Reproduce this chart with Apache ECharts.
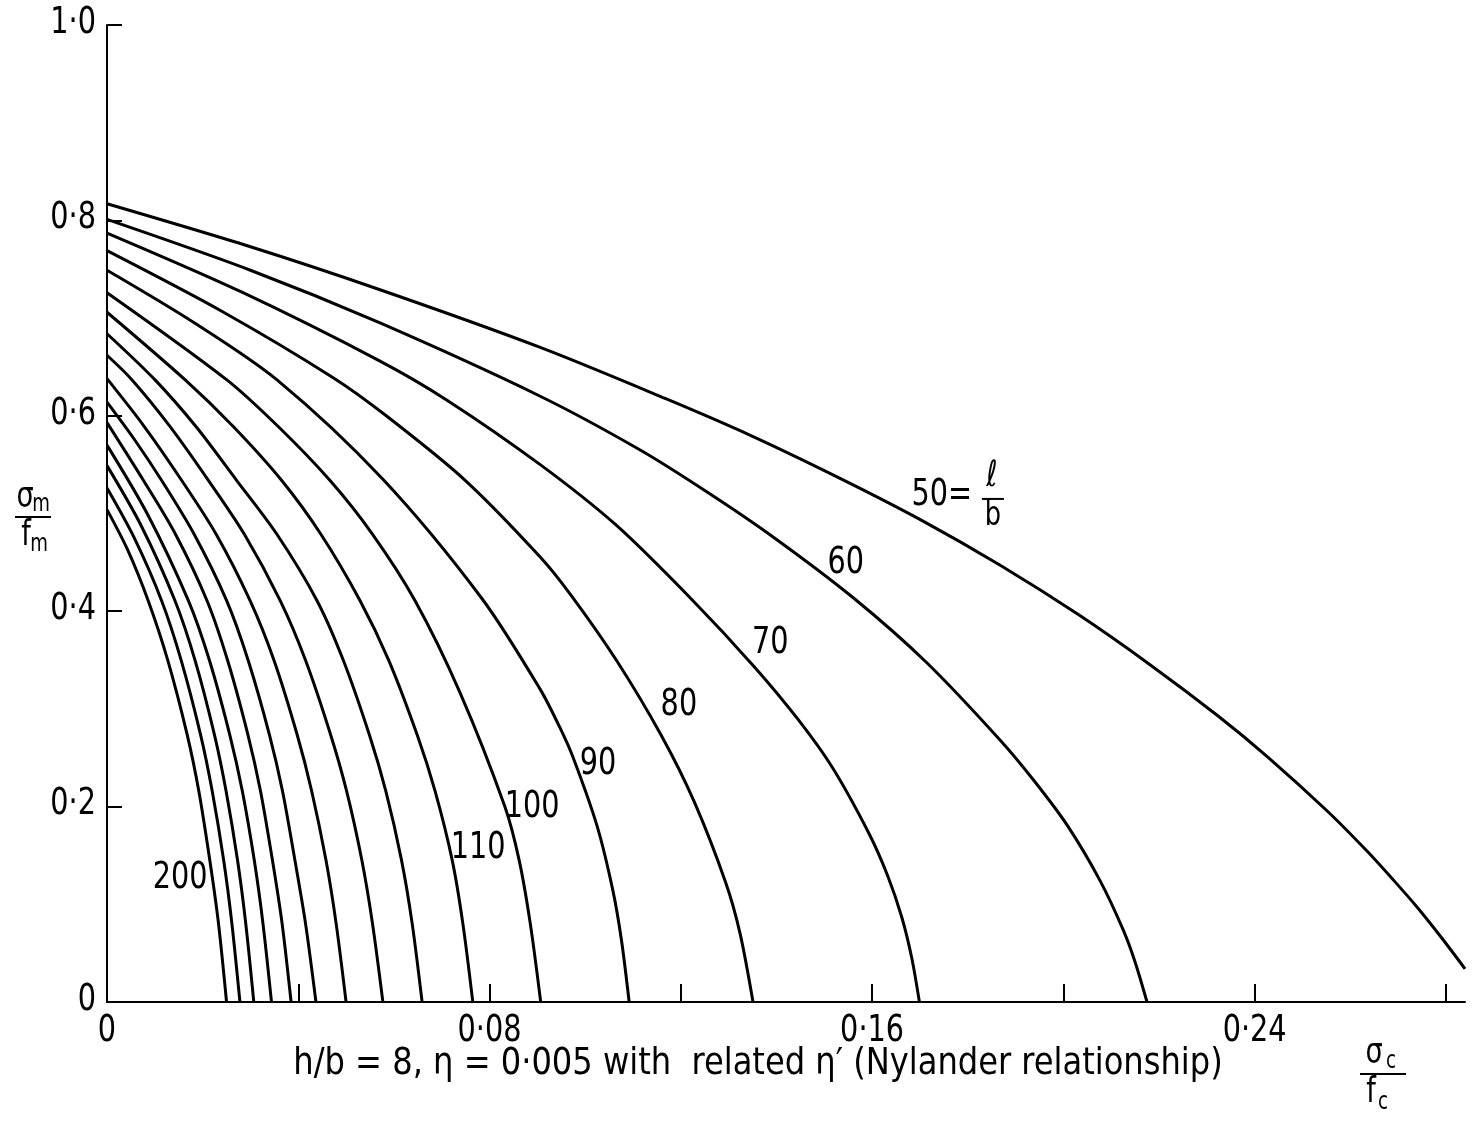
<!DOCTYPE html>
<html><head><meta charset="utf-8">
<script src="https://cdn.jsdelivr.net/npm/echarts@6/dist/echarts.min.js"></script>
<style>html,body{margin:0;padding:0;background:#fff}#c{width:1482px;height:1125px}</style>
</head><body><div id="c"></div>
<script>
const FONT = '"DejaVu Sans Condensed","Liberation Sans Narrow","DejaVu Sans",sans-serif';

// slenderness ratio l/b of each curve
const slenderness = [50, 60, 70, 80, 90, 100, 110, 120, 130, 140, 150, 160, 170, 180, 190, 200];

// [sigma_c/f_c, sigma_m/f_m]
const curve50 = [[0,0.817],[0.030,0.773],[0.0571,0.729],[0.0906,0.670],[0.1171,0.617],[0.135,0.579],[0.1533,0.536],[0.1700,0.494],[0.1868,0.447],[0.2033,0.396],[0.2182,0.345],[0.2323,0.293],[0.2427,0.251],[0.2553,0.195],[0.2636,0.154],[0.2690,0.125],[0.2740,0.097],[0.2789,0.067],[0.2840,0.034]];
const curve60 = [[0,0.801],[0.030,0.749],[0.0571,0.695],[0.0906,0.620],[0.1115,0.565],[0.1255,0.522],[0.1393,0.476],[0.1560,0.414],[0.1715,0.347],[0.1868,0.268],[0.1938,0.227],[0.2008,0.181],[0.2077,0.124],[0.2125,0.074],[0.2150,0.041],[0.2175,0]];
const curve70 = [[0,0.787],[0.028,0.727],[0.0571,0.656],[0.0711,0.616],[0.0906,0.550],[0.1065,0.488],[0.1225,0.411],[0.1354,0.343],[0.1444,0.290],[0.1517,0.240],[0.1593,0.173],[0.1632,0.130],[0.1662,0.087],[0.1683,0.045],[0.1699,0]];
const curve80 = [[0,0.769],[0.024,0.707],[0.0473,0.639],[0.0584,0.600],[0.0749,0.534],[0.0905,0.456],[0.0971,0.416],[0.1065,0.350],[0.1159,0.273],[0.1228,0.205],[0.1294,0.122],[0.1324,0.070],[0.1351,0]];
const curve90 = [[0,0.749],[0.018,0.696],[0.0355,0.637],[0.0577,0.535],[0.0784,0.413],[0.0906,0.320],[0.0947,0.281],[0.0975,0.250],[0.1025,0.180],[0.1058,0.114],[0.1076,0.063],[0.1092,0]];
const curve100 = [[0,0.726],[0.0250,0.637],[0.0358,0.589],[0.0466,0.534],[0.0555,0.479],[0.0644,0.411],[0.0738,0.317],[0.0832,0.200],[0.0862,0.145],[0.0885,0.081],[0.0907,0]];
const curve110 = [[0,0.706],[0.0163,0.637],[0.0264,0.589],[0.0365,0.534],[0.0447,0.479],[0.0529,0.411],[0.0589,0.350],[0.0649,0.273],[0.0686,0.216],[0.0722,0.145],[0.0744,0.081],[0.0765,0]];
const curve120 = [[0,0.684],[0.0100,0.637],[0.0186,0.589],[0.0271,0.534],[0.0355,0.479],[0.0439,0.411],[0.0494,0.350],[0.0549,0.273],[0.0583,0.216],[0.0616,0.145],[0.0638,0.081],[0.0659,0]];
const curve130 = [[0,0.662],[0.0052,0.637],[0.0132,0.589],[0.0212,0.534],[0.0287,0.479],[0.0362,0.411],[0.0415,0.350],[0.0468,0.273],[0.0501,0.216],[0.0533,0.145],[0.0555,0.081],[0.0577,0]];
const curve140 = [[0,0.638],[0.0078,0.589],[0.0156,0.534],[0.0228,0.479],[0.0299,0.411],[0.0349,0.350],[0.0398,0.273],[0.0428,0.216],[0.0458,0.145],[0.0479,0.081],[0.0500,0]];
const curve150 = [[0,0.614],[0.0057,0.576],[0.0114,0.534],[0.0182,0.479],[0.0250,0.411],[0.0295,0.350],[0.0340,0.273],[0.0367,0.216],[0.0393,0.145],[0.0415,0.081],[0.0437,0]];
const curve160 = [[0,0.593],[0.0076,0.534],[0.0143,0.479],[0.0209,0.411],[0.0252,0.350],[0.0295,0.273],[0.0321,0.216],[0.0346,0.145],[0.0366,0.081],[0.0385,0]];
const curve170 = [[0,0.570],[0.0085,0.499],[0.0170,0.411],[0.0214,0.350],[0.0257,0.273],[0.0283,0.216],[0.0308,0.145],[0.0326,0.081],[0.0344,0]];
const curve180 = [[0,0.549],[0.0071,0.488],[0.0142,0.411],[0.0184,0.350],[0.0225,0.273],[0.0249,0.216],[0.0273,0.145],[0.0290,0.081],[0.0307,0]];
const curve190 = [[0,0.526],[0.0057,0.475],[0.0114,0.411],[0.0155,0.350],[0.0196,0.273],[0.0220,0.216],[0.0244,0.145],[0.0261,0.081],[0.0278,0]];
const curve200 = [[0,0.504],[0.0043,0.463],[0.0086,0.411],[0.0127,0.350],[0.0168,0.273],[0.0192,0.216],[0.0215,0.145],[0.0233,0.081],[0.0250,0]];
const curves = [curve50, curve60, curve70, curve80, curve90, curve100, curve110, curve120,
                curve130, curve140, curve150, curve160, curve170, curve180, curve190, curve200];

// axis ticks and labels
const xTickValues = [0.04, 0.08, 0.12, 0.16, 0.20, 0.24, 0.28];
const xLabelValues = [0, 0.08, 0.16, 0.24];
const yTickValues = [0.2, 0.4, 0.6, 0.8, 1.0];
const yLabelValues = [0, 0.2, 0.4, 0.6, 0.8, 1.0];

// curve labels (text, and anchor in data units)
const curveLabelText = ['50=', '60', '70', '80', '90', '100', '110', '200'];
const curveLabelAnchor = [[0.1746,0.519],[0.1545,0.449],[0.1387,0.367],[0.1196,0.304],[0.1027,0.243],[0.0889,0.199],[0.0776,0.158],[0.0153,0.127]];

const caption = 'h/b = 8, η = 0·005 with  related η\u2032 (Nylander relationship)';

function fmt(v, d) {
  if (Math.abs(v) < 1e-9) return '0';
  return v.toFixed(d).replace('.', '\u00b7');
}

const lineSeries = curves.map((c, i) => ({
  type: 'line',
  name: 'l/b = ' + slenderness[i],
  data: c,
  showSymbol: false,
  smooth: 0.3,
  lineStyle: { color: '#000', width: 3 },
  silent: true,
  z: 3
}));

const option = {
  animation: false,
  backgroundColor: '#fff',
  grid: { left: 107, right: 17, top: 25, bottom: 123 },
  xAxis: {
    type: 'value', min: 0, max: 0.284,
    axisLine: { lineStyle: { color: '#000', width: 2 } },
    axisTick: { show: true, inside: true, length: 18, customValues: xTickValues, lineStyle: { color: '#000', width: 2 } },
    axisLabel: { show: false },
    splitLine: { show: false }
  },
  yAxis: {
    type: 'value', min: 0, max: 1,
    axisLine: { lineStyle: { color: '#000', width: 2 } },
    axisTick: { show: true, inside: true, length: 15, customValues: yTickValues, lineStyle: { color: '#000', width: 2 } },
    axisLabel: { show: false },
    splitLine: { show: false }
  },
  series: lineSeries
};

const chart = echarts.init(document.getElementById('c'));
chart.setOption(option);

const SX = 0.84;
const txt = (x, y, s, size, align, sx) => ({
  type: 'text', x: x, y: y, silent: true, scaleX: sx || SX,
  style: { text: s, fontFamily: FONT, fontSize: size, fill: '#000', align: align || 'center', verticalAlign: 'middle' }
});
const bar = (x1, x2, y) => ({
  type: 'line', silent: true,
  shape: { x1: x1, y1: y, x2: x2, y2: y },
  style: { stroke: '#000', lineWidth: 2 }
});

const g = [];
// axis tick labels placed through the axis scales
xLabelValues.forEach(v => {
  const p = chart.convertToPixel({ gridIndex: 0 }, [v, 0]);
  g.push(txt(p[0], p[1] + 29, fmt(v, 2), 38));
});
yLabelValues.forEach(v => {
  const p = chart.convertToPixel({ gridIndex: 0 }, [0, v]);
  g.push(txt(p[0] - 11, p[1] - 2, fmt(v, 1), 38, 'right'));
});
// curve labels
curveLabelAnchor.forEach((a, i) => {
  const p = chart.convertToPixel({ gridIndex: 0 }, a);
  g.push(txt(p[0], p[1], curveLabelText[i], 38));
});
const p50 = chart.convertToPixel({ gridIndex: 0 }, curveLabelAnchor[0]);
g.push(txt(p50[0] + 50, p50[1] - 18, '\u2113', 36));
g.push(bar(p50[0] + 40, p50[0] + 62, p50[1] + 4));
g.push(txt(p50[0] + 51, p50[1] + 21, 'b', 34));
// y-axis name sigma_m / f_m
g.push(txt(25, 498, '\u03c3', 36));
g.push(txt(41, 505, 'm', 24));
g.push(bar(15, 51, 517));
g.push(txt(26, 536, 'f', 36));
g.push(txt(39, 545, 'm', 24));
// x-axis name sigma_c / f_c
g.push(txt(1374, 1054, '\u03c3', 36));
g.push(txt(1391, 1062, 'c', 24));
g.push(bar(1360, 1406, 1074));
g.push(txt(1371, 1093, 'f', 36));
g.push(txt(1383, 1103, 'c', 24));
// caption
g.push(txt(758, 1064, caption, 38, 'center', 0.94));

chart.setOption({ graphic: g });
</script>
</body></html>
